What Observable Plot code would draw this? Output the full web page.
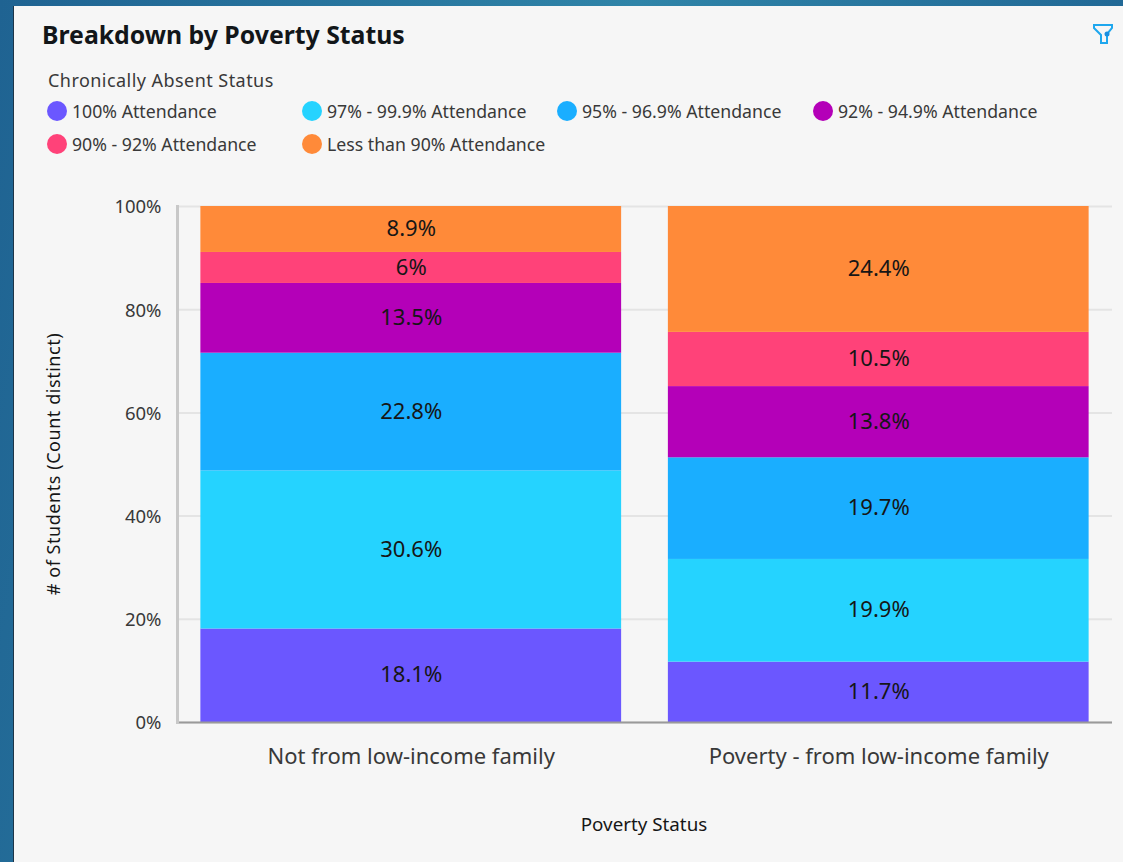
<!DOCTYPE html>
<html>
<head>
<meta charset="utf-8">
<script src="https://cdn.jsdelivr.net/npm/d3@7"></script>
<script src="https://cdn.jsdelivr.net/npm/@observablehq/plot@0.6"></script>
<style>
html,body{margin:0;padding:0;width:1123px;height:862px;overflow:hidden;}
body{background:linear-gradient(100deg,#1f6392 0%,#2f84a8 50%,#1d6090 100%);font-family:"Noto Sans",sans-serif;position:relative;}
#panel{position:absolute;left:13px;top:6px;width:1110px;height:856px;background:#f6f6f6;border-left:1px solid #1d3548;box-sizing:border-box;}
#title{position:absolute;left:42px;top:18px;font-size:24.8px;font-weight:700;color:#121619;line-height:32px;white-space:nowrap;}
#legendTitle{position:absolute;left:48px;top:68px;font-size:18px;letter-spacing:.45px;color:#393939;line-height:24px;white-space:nowrap;}
.lg{position:absolute;display:flex;align-items:center;height:24px;font-size:17.7px;color:#393939;white-space:nowrap;}
.lg i{display:block;width:20px;height:20px;border-radius:50%;margin-right:5px;}
#chart{position:absolute;left:0;top:170px;}
#chart svg{display:block;overflow:visible;background:transparent;}
#filter{position:absolute;left:1092px;top:23px;}
</style>
</head>
<body>
<div id="panel"></div>
<div id="title">Breakdown by Poverty Status</div>
<div id="legendTitle">Chronically Absent Status</div>
<div id="legend"></div>
<svg id="filter" width="22" height="22" viewBox="0 0 22 22" fill="none" stroke="#1ea7ee" stroke-width="2"><path d="M2 2H20V5L15 11V20H9V12L2 5Z"/><circle cx="15" cy="11" r="2.5" fill="#1a8fe0" stroke="none"/></svg>
<div id="chart"></div>
<script>
const statuses = ["Not from low-income family", "Poverty - from low-income family"];
const bands = ["100% Attendance", "97% - 99.9% Attendance", "95% - 96.9% Attendance", "92% - 94.9% Attendance", "90% - 92% Attendance", "Less than 90% Attendance"];
const colors = ["#6b57ff", "#25d3ff", "#1aaeff", "#b400b8", "#ff4279", "#ff8a39"];
const notLowIncome = [18.1, 30.6, 22.8, 13.5, 6, 8.9];
const lowIncome = [11.7, 19.9, 19.7, 13.8, 10.5, 24.4];
const legendX = [47, 302, 557, 813, 47, 302];
const legendY = [99, 99, 99, 99, 132, 132];

const rows = [];
bands.forEach((b, i) => {
  rows.push({status: statuses[0], band: b, value: notLowIncome[i]});
  rows.push({status: statuses[1], band: b, value: lowIncome[i]});
});

const legend = document.getElementById("legend");
bands.forEach((b, i) => {
  const d = document.createElement("div");
  d.className = "lg";
  d.style.left = legendX[i] + "px";
  d.style.top = legendY[i] + "px";
  d.innerHTML = `<i style="background:${colors[i]}"></i><span>${b}</span>`;
  legend.appendChild(d);
});

const stackOpts = {x: "status", y: "value", z: "band", order: bands, offset: "normalize"};
const font = '"Noto Sans",sans-serif';

const chart = Plot.plot({
  width: 1123,
  height: 692,
  marginLeft: 177,
  marginRight: 11,
  marginTop: 36,
  marginBottom: 140,
  style: {background: "transparent", fontFamily: font},
  x: {domain: statuses, paddingInner: 0.1, paddingOuter: 0.05, round: false, label: null},
  y: {domain: [0, 1], label: null},
  color: {domain: bands, range: colors},
  marks: [
    Plot.gridY([0, .2, .4, .6, .8, 1], {stroke: "#e4e4e4", strokeOpacity: 1, strokeWidth: 2}),
    Plot.barY(rows, Plot.stackY({...stackOpts, fill: "band"})),
    Plot.text(rows, Plot.stackY({...stackOpts, text: d => d.value + "%", fontSize: 22, dy: -0.5, fill: "#161616"})),
    Plot.axisY({ticks: [0, .2, .4, .6, .8, 1], tickFormat: d => Math.round(d * 100) + "%", tickSize: 0, tickPadding: 16, fontSize: 18.5, dy: 1, fill: "#393939", label: null}),
    Plot.axisX({tickSize: 0, tickPadding: 26, fontSize: 22, fill: "#393939", label: null}),
    Plot.ruleY([0], {stroke: "#9a9a9a", strokeWidth: 2}),
    Plot.frame({anchor: "left", stroke: "#c8c8c8", strokeWidth: 3})
  ]
});
const svg = d3.select(chart);
svg.append("text").text("# of Students (Count distinct)")
  .attr("transform", "translate(53,294) rotate(-90)")
  .attr("text-anchor", "middle").attr("dominant-baseline", "central")
  .style("font-size", "18px").style("letter-spacing", ".55px").style("fill", "#161616").style("font-family", font);
svg.append("text").text("Poverty Status")
  .attr("x", 644).attr("y", 654)
  .attr("text-anchor", "middle").attr("dominant-baseline", "central")
  .style("font-size", "18.8px").style("fill", "#161616").style("font-family", font);
document.getElementById("chart").appendChild(chart);
</script>
</body>
</html>
